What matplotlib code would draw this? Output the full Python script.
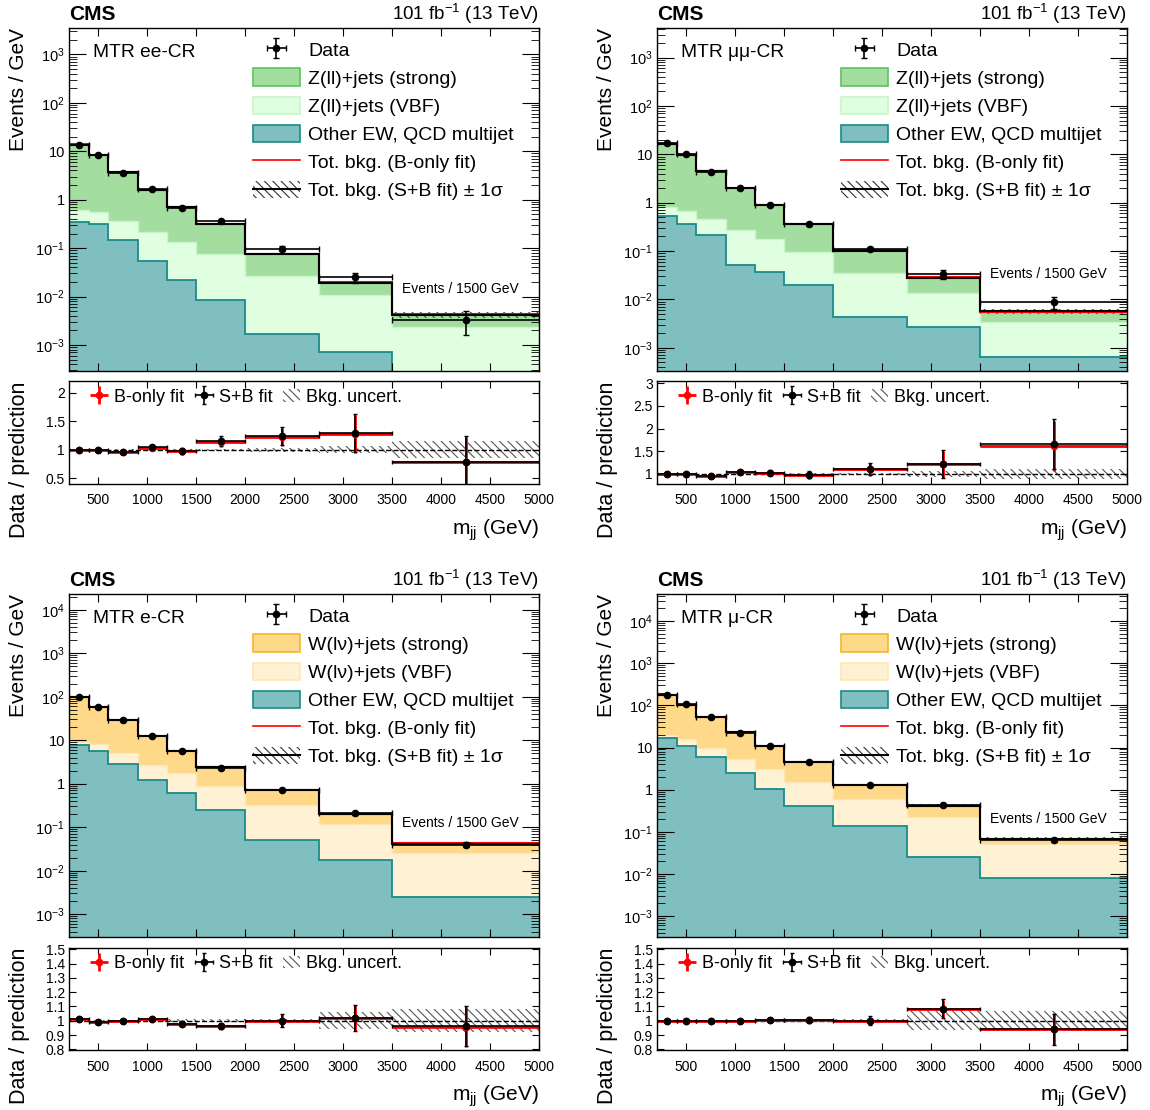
import numpy as np
import matplotlib
matplotlib.use("Agg")
import matplotlib.pyplot as plt
from matplotlib.patches import Patch
from matplotlib.lines import Line2D
from matplotlib.legend_handler import HandlerTuple
from matplotlib.ticker import FixedLocator, LogLocator, NullFormatter, FuncFormatter, MultipleLocator

plt.rcParams['font.family'] = ['Liberation Sans', 'DejaVu Sans']
plt.rcParams['mathtext.fontset'] = 'custom'
plt.rcParams['mathtext.rm'] = 'Liberation Sans'
plt.rcParams['mathtext.it'] = 'Liberation Sans:italic'
plt.rcParams['hatch.linewidth'] = 0.8
plt.rcParams['axes.linewidth'] = 1.0

# m_jj binning (GeV)
edges = np.array([200, 400, 600, 900, 1200, 1500, 2000, 2750, 3500, 5000])

# ---- MTR ee-CR (events / GeV)
ee_other = [0.34, 0.31, 0.15, 0.053, 0.022, 0.0083, 0.0017, 0.00073, 0.00001]
ee_vbf = [0.26, 0.25, 0.22, 0.16, 0.11, 0.068, 0.025, 0.010, 0.0023]
ee_strong = [13.1, 7.7, 3.3, 1.4, 0.56, 0.24, 0.049, 0.0082, 0.0019]
ee_bonly = [13.8, 8.3, 3.75, 1.6, 0.70, 0.32, 0.077, 0.0195, 0.0043]
ee_data = [13.7, 8.2, 3.6, 1.65, 0.68, 0.36, 0.098, 0.025, 0.0033]
ee_data_err = [0.26, 0.2, 0.11, 0.07, 0.05, 0.027, 0.011, 0.0058, 0.0017]
ee_ratio_b = [1.0, 0.99, 0.96, 1.04, 0.975, 1.14, 1.23, 1.28, 0.78]
ee_ratio_sb = [1.0, 0.99, 0.965, 1.045, 0.98, 1.15, 1.24, 1.30, 0.79]
ee_ratio_err = [0.02, 0.025, 0.03, 0.04, 0.06, 0.09, 0.16, 0.33, 0.45]
ee_unc = [0.01, 0.01, 0.01, 0.01, 0.015, 0.02, 0.03, 0.06, 0.15]

# ---- MTR mumu-CR
mm_other = [0.53, 0.356, 0.214, 0.051, 0.0374, 0.0198, 0.0044, 0.0027, 0.00063]
mm_vbf = [0.30, 0.314, 0.256, 0.219, 0.143, 0.074, 0.031, 0.011, 0.0027]
mm_strong = [15.6, 9.1, 4.0, 1.71, 0.70, 0.268, 0.066, 0.0143, 0.0023]
mm_bonly = [16.5, 9.8, 4.5, 2.0, 0.89, 0.365, 0.103, 0.0285, 0.0055]
mm_data = [16.9, 10.0, 4.4, 1.98, 0.89, 0.356, 0.11, 0.033, 0.0089]
mm_data_err = [0.29, 0.22, 0.12, 0.08, 0.055, 0.027, 0.012, 0.0066, 0.0025]
mm_ratio_b = [1.0, 1.0, 0.95, 1.04, 1.02, 0.97, 1.10, 1.21, 1.62]
mm_ratio_sb = [1.0, 1.0, 0.95, 1.04, 1.03, 0.98, 1.11, 1.22, 1.67]
mm_ratio_err = [0.02, 0.025, 0.03, 0.04, 0.06, 0.075, 0.14, 0.30, 0.55]
mm_unc = [0.01, 0.01, 0.01, 0.01, 0.015, 0.02, 0.03, 0.06, 0.12]

# ---- MTR e-CR
e_other = [7.7, 5.6, 2.9, 1.19, 0.61, 0.248, 0.050, 0.0179, 0.0025]
e_vbf = [1.4, 2.7, 2.1, 1.45, 1.12, 0.63, 0.27, 0.102, 0.023]
e_strong = [88.9, 49.7, 23.6, 9.6, 4.07, 1.52, 0.41, 0.084, 0.0165]
e_bonly = [98, 58, 28.6, 12.2, 5.8, 2.4, 0.73, 0.205, 0.0425]
e_data = [97, 57, 28.6, 12.3, 5.7, 2.33, 0.73, 0.208, 0.040]
e_data_err = [0.7, 0.54, 0.31, 0.2, 0.14, 0.068, 0.031, 0.017, 0.005]
e_ratio_b = [1.01, 0.99, 1.0, 1.01, 0.98, 0.96, 1.0, 1.02, 0.955]
e_ratio_sb = [1.01, 0.99, 1.0, 1.01, 0.98, 0.963, 1.0, 1.02, 0.963]
e_ratio_err = [0.01, 0.01, 0.012, 0.012, 0.015, 0.02, 0.045, 0.09, 0.14]
e_unc = [0.005, 0.005, 0.005, 0.007, 0.01, 0.01, 0.015, 0.06, 0.08]

# ---- MTR mu-CR
m_other = [16.8, 11.1, 5.96, 2.49, 1.06, 0.40, 0.14, 0.026, 0.0080]
m_vbf = [3.4, 5.1, 3.74, 2.81, 2.04, 1.12, 0.46, 0.198, 0.043]
m_strong = [152.8, 87.8, 42.3, 17.7, 7.6, 2.93, 0.71, 0.196, 0.018]
m_bonly = [173, 104, 52, 23, 10.7, 4.45, 1.31, 0.42, 0.069]
m_data = [173, 106, 52, 22.5, 10.6, 4.45, 1.31, 0.44, 0.065]
m_data_err = [0.93, 0.73, 0.42, 0.27, 0.19, 0.094, 0.042, 0.024, 0.0066]
m_ratio_b = [1.0, 1.0, 1.0, 0.998, 1.006, 1.004, 0.998, 1.083, 0.942]
m_ratio_sb = [1.0, 1.0, 1.0, 0.998, 1.007, 1.005, 1.0, 1.085, 0.94]
m_ratio_err = [0.006, 0.007, 0.008, 0.01, 0.012, 0.018, 0.03, 0.065, 0.11]
m_unc = [0.004, 0.004, 0.004, 0.005, 0.006, 0.008, 0.01, 0.065, 0.07]

z_names = ['Z(ll)+jets (strong)', 'Z(ll)+jets (VBF)']
w_names = ['W(l\u03bd)+jets (strong)', 'W(l\u03bd)+jets (VBF)']
z_cols = [('#a3dea0', '#5cc45c'), ('#e0ffe0', '#c8f5c8')]
w_cols = [('#ffd98a', '#f5b52a'), ('#fff2d4', '#ffe5b5')]
other_col = ('#80bfbf', '#1a8a8a')

W = 1150.0
H = 1110.0
col_x = [69 / W, 657 / W]
ax_w = 470 / W
main_y = [1 - 371 / H, 1 - 937 / H]
main_h = 343 / H
ratio_y = [1 - 483.5 / H, 1 - 1050 / H]
ratio_h = 102 / H

regions = [
    dict(col=0, row=0, label='MTR ee-CR', names=z_names, cols=z_cols,
         other=ee_other, vbf=ee_vbf, strong=ee_strong, bonly=ee_bonly,
         data=ee_data, derr=ee_data_err, rb=ee_ratio_b, rsb=ee_ratio_sb,
         rerr=ee_ratio_err, unc=ee_unc, ylim=(2.9e-4, 3.5e3),
         rlim=(0.41, 2.2), rticks=[0.5, 1, 1.5, 2], evt_y=0.239),
    dict(col=1, row=0, label='MTR \u03bc\u03bc-CR', names=z_names, cols=z_cols,
         other=mm_other, vbf=mm_vbf, strong=mm_strong, bonly=mm_bonly,
         data=mm_data, derr=mm_data_err, rb=mm_ratio_b, rsb=mm_ratio_sb,
         rerr=mm_ratio_err, unc=mm_unc, ylim=(3.3e-4, 4.1e3),
         rlim=(0.79, 3.04), rticks=[1, 1.5, 2, 2.5, 3], evt_y=0.283),
    dict(col=0, row=1, label='MTR e-CR', names=w_names, cols=w_cols,
         other=e_other, vbf=e_vbf, strong=e_strong, bonly=e_bonly,
         data=e_data, derr=e_data_err, rb=e_ratio_b, rsb=e_ratio_sb,
         rerr=e_ratio_err, unc=e_unc, ylim=(3e-4, 2.3e4),
         rlim=(0.795, 1.51), rticks=[0.8, 0.9, 1, 1.1, 1.2, 1.3, 1.4, 1.5], evt_y=0.332),
    dict(col=1, row=1, label='MTR \u03bc-CR', names=w_names, cols=w_cols,
         other=m_other, vbf=m_vbf, strong=m_strong, bonly=m_bonly,
         data=m_data, derr=m_data_err, rb=m_ratio_b, rsb=m_ratio_sb,
         rerr=m_ratio_err, unc=m_unc, ylim=(3.2e-4, 4.4e4),
         rlim=(0.795, 1.51), rticks=[0.8, 0.9, 1, 1.1, 1.2, 1.3, 1.4, 1.5], evt_y=0.344),
]

centers = 0.5 * (edges[1:] + edges[:-1])
half_w = 0.5 * (edges[1:] - edges[:-1])
hatch = '\\\\\\\\'


def log_label(v, pos):
    e = int(round(np.log10(v)))
    if e == 0:
        return '1'
    if e == 1:
        return '10'
    return r'$10^{%d}$' % e


fig = plt.figure(figsize=(W / 100, H / 100), dpi=100)

for r in regions:
    ax = fig.add_axes([col_x[r['col']], main_y[r['row']], ax_w, main_h])
    rax = fig.add_axes([col_x[r['col']], ratio_y[r['row']], ax_w, ratio_h])

    other = np.array(r['other'])
    vbf = np.array(r['vbf'])
    strong = np.array(r['strong'])
    lvl1 = other
    lvl2 = other + vbf
    total = lvl2 + strong
    unc = np.array(r['unc'])
    (sfc, sec), (vfc, vec) = r['cols']

    # stacked backgrounds
    ax.stairs(total, edges, baseline=lvl2, fill=True, color=sfc, lw=0)
    ax.stairs(lvl2, edges, baseline=lvl1, fill=True, color=vfc, lw=0)
    ax.stairs(lvl1, edges, baseline=1e-9, fill=True, color=other_col[0], lw=0)
    ax.stairs(lvl2, edges, baseline=None, color=vec, lw=1.0)
    ax.stairs(lvl1, edges, baseline=None, color=other_col[1], lw=1.3)
    ax.stairs(total * (1 + unc), edges, baseline=total * (1 - unc), fill=True,
              facecolor='none', edgecolor='#444444', hatch=hatch, lw=0)
    ax.stairs(np.array(r['bonly']), edges, baseline=None, color='red', lw=1.5)
    ax.stairs(total, edges, baseline=None, color='black', lw=1.5)
    deb = ax.errorbar(centers, r['data'], xerr=half_w, yerr=r['derr'], fmt='o',
                      color='black', ms=4.5, lw=1.2, capsize=2)

    ax.set_yscale('log')
    ax.set_xlim(edges[0], edges[-1])
    ax.set_ylim(*r['ylim'])
    ax.yaxis.set_major_locator(LogLocator(base=10, numticks=20))
    ax.yaxis.set_minor_locator(LogLocator(base=10, subs=np.arange(2, 10), numticks=20))
    ax.yaxis.set_major_formatter(FuncFormatter(log_label))
    ax.yaxis.set_minor_formatter(NullFormatter())
    ax.xaxis.set_major_locator(MultipleLocator(500))
    ax.tick_params(which='both', direction='in', top=True, right=True,
                   labelbottom=False, labelsize=10.5, pad=3)
    ax.tick_params(axis='y', which='major', length=12)
    ax.tick_params(axis='y', which='minor', length=6)
    ax.tick_params(axis='x', which='major', length=6)

    ax.set_ylabel('Events / GeV', fontsize=15, loc='top')
    ax.yaxis.set_label_coords(-0.087, 1.0)
    ax.text(0.0, 1.023, 'CMS', transform=ax.transAxes, fontsize=15,
            fontweight='bold', va='baseline', ha='left')
    ax.text(1.0, 1.023, r'101 fb$^{-1}$ (13 TeV)', transform=ax.transAxes,
            fontsize=13.5, va='baseline', ha='right')
    ax.text(0.051, 0.93, r['label'], transform=ax.transAxes, fontsize=13.8,
            va='center', ha='left')
    ax.text(0.709, r['evt_y'], 'Events / 1500 GeV', transform=ax.transAxes,
            fontsize=10, va='center', ha='left')

    handles = [deb,
               Patch(facecolor=sfc, edgecolor=sec, lw=1.2),
               Patch(facecolor=vfc, edgecolor=vec, lw=1.2),
               Patch(facecolor=other_col[0], edgecolor=other_col[1], lw=1.2),
               Line2D([], [], color='red', lw=1.2),
               (Patch(facecolor='white', edgecolor='#333333', hatch=hatch, lw=0),
                Line2D([], [], color='black', lw=1.5))]
    labels = ['Data', r['names'][0], r['names'][1], 'Other EW, QCD multijet',
              'Tot. bkg. (B-only fit)', 'Tot. bkg. (S+B fit) \u00b1 1\u03c3']
    ax.legend(handles, labels, loc='upper left', bbox_to_anchor=(0.391, 0.964),
              frameon=False, fontsize=14, handlelength=2.42, handleheight=1.0,
              handletextpad=0.42, labelspacing=0.45, borderpad=0, borderaxespad=0,
              handler_map={tuple: HandlerTuple(ndivide=1)})

    # ratio panel
    rax.stairs(1 + unc, edges, baseline=1 - unc, fill=True, facecolor='none',
               edgecolor='#555555', hatch=hatch, lw=0)
    rax.axhline(1.0, color='black', ls='--', lw=1.0)
    reb = rax.errorbar(centers, r['rb'], xerr=half_w, yerr=r['rerr'], fmt='o',
                       color='red', ms=4.5, lw=2.0, capsize=0)
    seb = rax.errorbar(centers, r['rsb'], xerr=half_w, yerr=r['rerr'], fmt='o',
                       color='black', ms=4.5, lw=1.2, capsize=1.5)
    rax.set_xlim(edges[0], edges[-1])
    rax.set_ylim(*r['rlim'])
    rax.yaxis.set_major_locator(FixedLocator(r['rticks']))
    rax.yaxis.set_major_formatter(FuncFormatter(lambda v, p: '%g' % v))
    rax.xaxis.set_major_locator(MultipleLocator(500))
    rax.xaxis.set_major_formatter(FuncFormatter(lambda v, p: '%d' % v))
    rax.tick_params(which='both', direction='in', top=True, right=True,
                    labelsize=10, length=5)
    rax.tick_params(axis='x', pad=7)
    rax.tick_params(axis='y', pad=3)
    rax.set_ylabel('Data / prediction', fontsize=15.5, loc='top')
    rax.yaxis.set_label_coords(-0.083, 1.0)
    rax.set_xlabel(r'm$_{\rm jj}$ (GeV)', fontsize=15, loc='right')
    rax.xaxis.set_label_coords(1.0, -0.33)
    rax.legend([reb, seb, Patch(facecolor='white', edgecolor='#555555', hatch=hatch, lw=0)],
               ['B-only fit', 'S+B fit', 'Bkg. uncert.'], ncol=3, loc='upper left',
               bbox_to_anchor=(0.046, 0.93), frameon=False, fontsize=13,
               handlelength=0.95, handletextpad=0.35, columnspacing=0.6,
               borderpad=0, borderaxespad=0)

fig.savefig('out.png', dpi=100)
